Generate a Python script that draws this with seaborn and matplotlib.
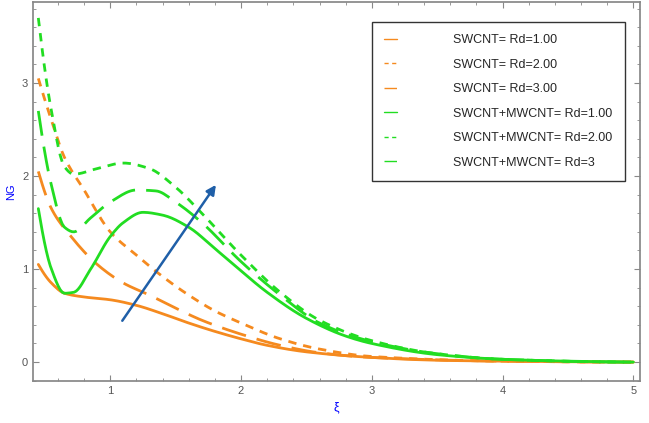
import matplotlib
matplotlib.use("Agg")
import matplotlib.pyplot as plt
import seaborn as sns
import numpy as np
from matplotlib.ticker import MultipleLocator
from scipy.interpolate import PchipInterpolator

sns.set_theme(style="white")
plt.rcParams['font.family'] = ['Liberation Sans', 'DejaVu Sans']

labels = ["SWCNT= Rd=1.00", "SWCNT= Rd=2.00", "SWCNT= Rd=3.00",
          "SWCNT+MWCNT= Rd=1.00", "SWCNT+MWCNT= Rd=2.00", "SWCNT+MWCNT= Rd=3"]
x_os = [0.45,0.55,0.65,0.8,1.0,1.2,1.4,1.6,1.8,2.0,2.2,2.5,3,3.5,4,5]
y_os = [1.05,0.85,0.74,0.70,0.67,0.61,0.52,0.42,0.33,0.25,0.18,0.11,0.05,0.02,0.01,0.0]
x_od = [0.45,0.55,0.65,0.8,1.0,1.2,1.4,1.6,1.8,2.0,2.3,2.6,3,4,5]
y_od = [3.05,2.6,2.2,1.85,1.4,1.15,0.92,0.72,0.55,0.42,0.25,0.14,0.06,0.01,0.0]
x_ol = [0.45,0.55,0.7,0.9,1.1,1.3,1.5,1.7,2.0,2.3,2.6,3,4,5]
y_ol = [2.05,1.65,1.35,1.05,0.85,0.72,0.58,0.45,0.3,0.18,0.1,0.05,0.01,0.0]
x_gs = [0.45,0.55,0.65,0.72,0.85,1.0,1.1,1.25,1.4,1.6,1.8,2.0,2.2,2.5,2.8,3,3.5,4,4.5,5]
y_gs = [1.65,1.0,0.74,0.75,1.0,1.35,1.5,1.61,1.58,1.45,1.22,0.98,0.75,0.47,0.28,0.2,0.08,0.03,0.01,0.0]
x_gd = [0.45,0.55,0.65,0.72,0.9,1.1,1.3,1.5,1.7,2.0,2.3,2.6,3,3.5,4,5]
y_gd = [3.7,2.7,2.1,2.02,2.08,2.14,2.08,1.88,1.6,1.15,0.75,0.45,0.23,0.09,0.03,0.0]
x_gl = [0.45,0.55,0.65,0.72,0.85,1.0,1.2,1.35,1.5,1.7,2.0,2.3,2.6,3,3.5,4,5]
y_gl = [2.7,1.9,1.45,1.4,1.55,1.72,1.85,1.84,1.72,1.5,1.08,0.72,0.42,0.22,0.09,0.03,0.0]

orange = "#F58A1F"
green = "#22DD22"
series = [(x_os, y_os, orange, "-"), (x_od, y_od, orange, (0, (3, 2.5))),
          (x_ol, y_ol, orange, (0, (9, 4))), (x_gs, y_gs, green, "-"),
          (x_gd, y_gd, green, (0, (3, 2.5))), (x_gl, y_gl, green, (0, (9, 4)))]

fig, ax = plt.subplots(figsize=(6.49, 4.23), dpi=100)
fig.subplots_adjust(left=0.051, right=0.986, top=0.995, bottom=0.1)
for (xs, ys, c, ls), lab in zip(series, labels):
    xx = np.linspace(min(xs), max(xs), 300)
    yy = PchipInterpolator(xs, ys)(xx)
    sns.lineplot(x=xx, y=yy, ax=ax, color=c, linestyle=ls, lw=2, label=lab)

ax.annotate("", xy=(1.82, 1.93), xytext=(1.08, 0.42),
            arrowprops=dict(arrowstyle="-|>", color="#1F5FA8", lw=1.8, mutation_scale=14))
ax.set_xlim(0.41, 5.05)
ax.set_ylim(-0.2, 3.87)
ax.xaxis.set_major_locator(MultipleLocator(1))
ax.xaxis.set_minor_locator(MultipleLocator(0.2))
ax.yaxis.set_major_locator(MultipleLocator(1))
ax.yaxis.set_minor_locator(MultipleLocator(0.2))
ax.tick_params(which="both", direction="in", colors="#888888", labelcolor="#555555", labelsize=8,
               bottom=True, left=True, top=True, right=True, labeltop=False, labelright=False)
ax.tick_params(which="major", length=4, width=0.8)
ax.tick_params(which="minor", length=2, width=0.6)
for s in ax.spines.values():
    s.set_color("#888888")
ax.set_xlabel("ξ", color="blue", fontsize=9)
ax.set_ylabel("NG", color="blue", fontsize=8)
leg = ax.legend(loc="upper right", bbox_to_anchor=(0.985, 0.965), fontsize=9, handlelength=1.0,
                handletextpad=4.5, labelspacing=1.0, frameon=True, fancybox=False, borderpad=1.0)
leg.get_frame().set_edgecolor("black")
for h in leg.get_lines():
    h.set_linewidth(1)
fig.savefig("out.png", dpi=100)
